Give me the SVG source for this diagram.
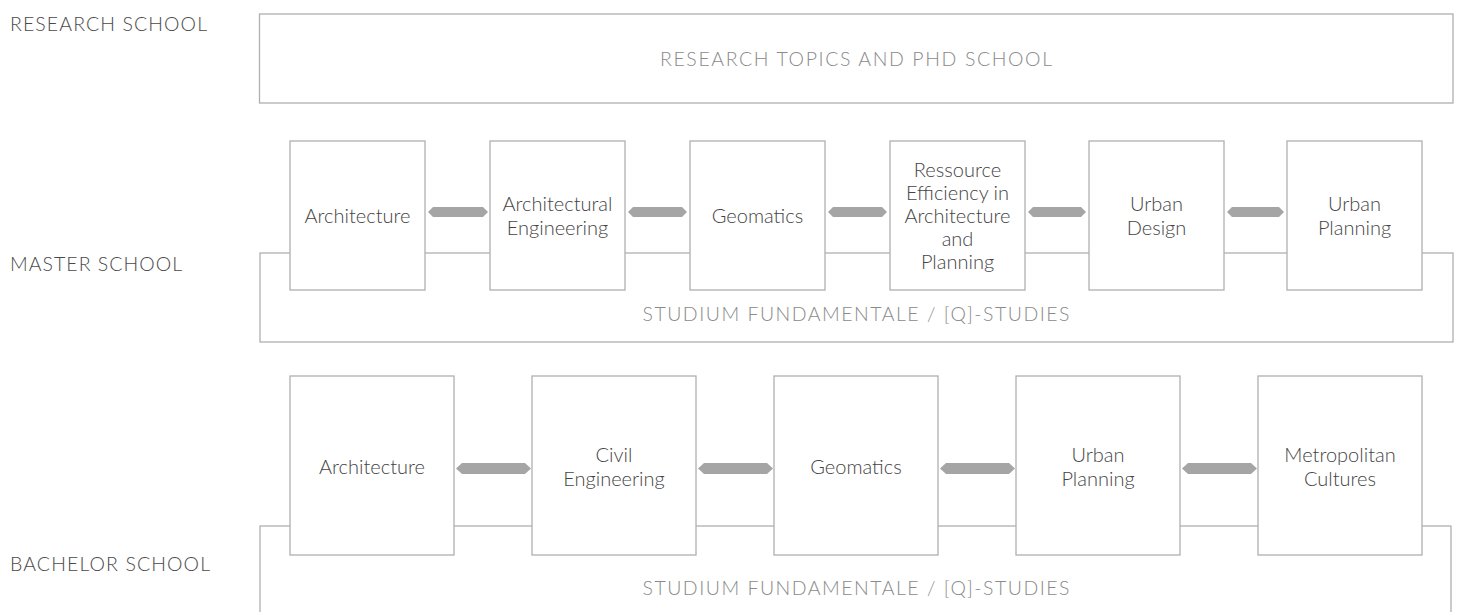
<svg xmlns="http://www.w3.org/2000/svg" width="1458" height="612" viewBox="0 0 1458 612">
<style>
.bg{fill:#ffffff}
.frame{fill:#ffffff;stroke:#b0b0b0;stroke-width:1.3}
.node{fill:#ffffff;stroke:#b0b0b0;stroke-width:1.3}
.sec{font-family:Lato,"Open Sans","Liberation Sans",sans-serif;font-weight:300;font-size:19.5px;fill:#4a4a4a}
.band{font-family:Lato,"Open Sans","Liberation Sans",sans-serif;font-weight:300;font-size:19.5px;fill:#8a8a8a;text-anchor:middle}
.nt{font-family:Lato,"Open Sans","Liberation Sans",sans-serif;font-weight:300;font-size:20px;fill:#444444;text-anchor:middle}
.arr{fill:#a5a5a5}
</style>
<rect class="bg" x="0" y="0" width="1458" height="612"/>

<g id="section-labels">
<text class="sec" x="10" y="31" textLength="197" lengthAdjust="spacing">RESEARCH SCHOOL</text>
<text class="sec" x="10" y="271" textLength="172" lengthAdjust="spacing">MASTER SCHOOL</text>
<text class="sec" x="10" y="571" textLength="200" lengthAdjust="spacing">BACHELOR SCHOOL</text>
</g>

<g id="research">
<rect class="frame" x="259.5" y="14" width="1193.5" height="89"/>
<text class="band" x="856" y="66" textLength="392" lengthAdjust="spacing">RESEARCH TOPICS AND PHD SCHOOL</text>
</g>

<g id="master-frame">
<rect class="frame" x="260" y="253" width="1193" height="89"/>
<text class="band" x="856" y="321" textLength="427" lengthAdjust="spacing">STUDIUM FUNDAMENTALE / [Q]-STUDIES</text>
</g>

<g id="bachelor-frame">
<rect class="frame" x="260" y="526" width="1191" height="100"/>
<text class="band" x="856" y="595" textLength="427" lengthAdjust="spacing">STUDIUM FUNDAMENTALE / [Q]-STUDIES</text>
</g>

<g id="connectors">
<polygon class="arr" points="428,212 433,207 483,207 488,212 483,217 433,217"/>
<polygon class="arr" points="628,212 633,207 682,207 687,212 682,217 633,217"/>
<polygon class="arr" points="828,212 833,207 882,207 887,212 882,217 833,217"/>
<polygon class="arr" points="1028,212 1033,207 1081,207 1086,212 1081,217 1033,217"/>
<polygon class="arr" points="1227,212 1232,207 1279,207 1284,212 1279,217 1232,217"/>
<polygon class="arr" points="456,468.5 462,463 525,463 531,468.5 525,474 462,474"/>
<polygon class="arr" points="698,468.5 704,463 767,463 773,468.5 767,474 704,474"/>
<polygon class="arr" points="940,468.5 946,463 1009,463 1015,468.5 1009,474 946,474"/>
<polygon class="arr" points="1182,468.5 1188,463 1251,463 1257,468.5 1251,474 1188,474"/>
</g>

<g id="m-architecture"><rect class="node" x="290" y="141" width="135" height="149"/>
<text class="nt" x="357.5" y="223">Architecture</text></g>
<g id="m-architectural-engineering"><rect class="node" x="490" y="141" width="135" height="149"/>
<text class="nt" x="557.5" y="211">Architectural</text><text class="nt" x="557.5" y="234.5">Engineering</text></g>
<g id="m-geomatics"><rect class="node" x="690" y="141" width="135" height="149"/>
<text class="nt" x="757.5" y="223">Geomatics</text></g>
<g id="m-ressource"><rect class="node" x="890" y="141" width="135" height="149"/>
<text class="nt" x="957.5" y="176.5">Ressource</text>
<text class="nt" x="957.5" y="199.5">Efficiency in</text>
<text class="nt" x="957.5" y="222.5">Architecture</text>
<text class="nt" x="957.5" y="245.5">and</text>
<text class="nt" x="957.5" y="268.5">Planning</text></g>
<g id="m-urban-design"><rect class="node" x="1089" y="141" width="135" height="149"/>
<text class="nt" x="1156.5" y="211">Urban</text><text class="nt" x="1156.5" y="234.5">Design</text></g>
<g id="m-urban-planning"><rect class="node" x="1287" y="141" width="135" height="149"/>
<text class="nt" x="1354.5" y="211">Urban</text><text class="nt" x="1354.5" y="234.5">Planning</text></g>

<g id="b-architecture"><rect class="node" x="290" y="376" width="164" height="179"/>
<text class="nt" x="372" y="474">Architecture</text></g>
<g id="b-civil-engineering"><rect class="node" x="532" y="376" width="164" height="179"/>
<text class="nt" x="614" y="462">Civil</text><text class="nt" x="614" y="485.5">Engineering</text></g>
<g id="b-geomatics"><rect class="node" x="774" y="376" width="164" height="179"/>
<text class="nt" x="856" y="474">Geomatics</text></g>
<g id="b-urban-planning"><rect class="node" x="1016" y="376" width="164" height="179"/>
<text class="nt" x="1098" y="462">Urban</text><text class="nt" x="1098" y="485.5">Planning</text></g>
<g id="b-metropolitan-cultures"><rect class="node" x="1258" y="376" width="164" height="179"/>
<text class="nt" x="1340" y="462">Metropolitan</text><text class="nt" x="1340" y="485.5">Cultures</text></g>
</svg>
